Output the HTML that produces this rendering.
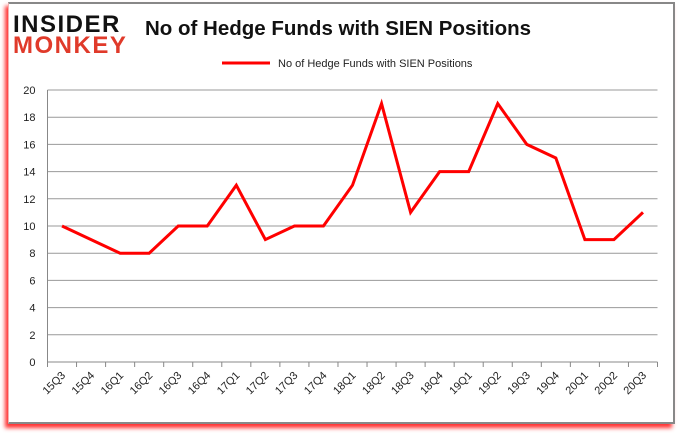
<!DOCTYPE html>
<html><head><meta charset="utf-8"><style>
body{margin:0;background:#fff;width:680px;height:433px;overflow:hidden;font-family:"Liberation Sans",sans-serif}
#frame{position:absolute;left:8px;top:2px;width:664px;height:418px;border:2px solid #888;border-left:1px solid #f4b0b0;box-shadow:-3px 4px 4px #f33;background:#fff}
</style></head><body>
<div id="frame"></div>
<svg id="c" width="680" height="433" style="position:absolute;left:0;top:0">
<g>
<text x="13" y="32" font-size="24" font-weight="bold" fill="#111" letter-spacing="1.5">INSIDER</text>
<text x="13" y="53" font-size="24" font-weight="bold" fill="#e03a2a" letter-spacing="1.5">MONKEY</text>
</g>
<text x="338" y="35" text-anchor="middle" font-size="20.5" font-weight="bold" fill="#111">No of Hedge Funds with SIEN Positions</text>
<line x1="222" y1="63" x2="270" y2="63" stroke="#f00" stroke-width="3"/>
<text x="278" y="67" font-size="11" fill="#222">No of Hedge Funds with SIEN Positions</text>
<g id="grid"></g><g id="axes"></g><g id="series"></g>
</svg>
<script>
const categories=["15Q3","15Q4","16Q1","16Q2","16Q3","16Q4","17Q1","17Q2","17Q3","17Q4","18Q1","18Q2","18Q3","18Q4","19Q1","19Q2","19Q3","19Q4","20Q1","20Q2","20Q3"];
const values=[10,9,8,8,10,10,13,9,10,10,13,19,11,14,14,19,16,15,9,9,11];
const yTicks=[0,2,4,6,8,10,12,14,16,18,20];
const NS="http://www.w3.org/2000/svg";
const L=47.5,R=657.5,T=90,B=362,yMax=20;
const step=(R-L)/categories.length;
const xS=i=>L+step*(i+0.5);
const yS=v=>B-(v/yMax)*(B-T);
function mk(tag,attrs,parent){const e=document.createElementNS(NS,tag);for(const k in attrs)e.setAttribute(k,attrs[k]);document.getElementById(parent).appendChild(e);return e;}
yTicks.forEach(v=>{
 const g=mk('line',{x1:L,x2:R,y1:yS(v),y2:yS(v),stroke:v===0?'#888':'#999','stroke-width':1},'grid');
 
 
 const t=mk('text',{x:L-12,y:yS(v)+4,'text-anchor':'end','font-size':11,fill:'#222'},'axes');
 t.textContent=v;
 
 
});
const ax=mk('line',{x1:L,x2:L,y1:T,y2:B,stroke:'#888'},'axes');


for(let i=0;i<=categories.length;i++){
 const tk=mk('line',{x1:L+step*i,x2:L+step*i,y1:B,y2:B+5,stroke:'#888'},'axes');
 
 
}
categories.forEach((c,i)=>{
 const x=xS(i)+4,y=B+14;
 const t=mk('text',{x:x,y:y,'text-anchor':'end','font-size':11,fill:'#222',transform:`rotate(-45 ${x} ${y})`},'axes');
 t.textContent=c;
 
 
});
const p=mk('polyline',{points:values.map((v,i)=>xS(i)+','+yS(v)).join(' '),fill:'none',stroke:'#f00','stroke-width':3,'stroke-linejoin':'miter'},'series');


</script>
</body></html>
